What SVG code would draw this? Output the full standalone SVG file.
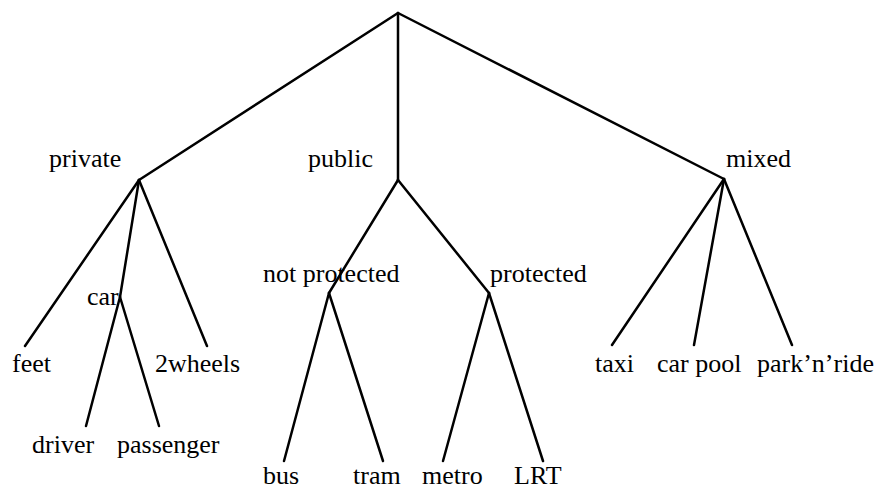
<svg xmlns="http://www.w3.org/2000/svg" width="889" height="490" viewBox="0 0 889 490">
  <style>
    .edge { stroke: #000; stroke-width: 2.5; fill: none; stroke-linecap: round; stroke-linejoin: round; }
    text { font-family: "Liberation Serif", "Times New Roman", serif; font-size: 26px; fill: #000; }
  </style>
  <rect width="889" height="490" fill="#fff"/>
  <g id="connectors">
    <!-- root -->
    <line class="edge" x1="398" y1="13" x2="139" y2="180"/>
    <line class="edge" x1="398" y1="13" x2="398" y2="180"/>
    <line class="edge" x1="398" y1="13" x2="724" y2="179"/>
    <!-- private -->
    <line class="edge" x1="139" y1="180" x2="25" y2="346"/>
    <line class="edge" x1="139" y1="180" x2="120" y2="297"/>
    <line class="edge" x1="139" y1="180" x2="207" y2="346"/>
    <!-- car -->
    <line class="edge" x1="120" y1="297" x2="86" y2="426"/>
    <line class="edge" x1="120" y1="297" x2="159" y2="426"/>
    <!-- public -->
    <line class="edge" x1="398" y1="180" x2="329" y2="293"/>
    <line class="edge" x1="398" y1="180" x2="489" y2="293"/>
    <!-- not protected -->
    <line class="edge" x1="329" y1="293" x2="284" y2="461"/>
    <line class="edge" x1="329" y1="293" x2="383" y2="461"/>
    <!-- protected -->
    <line class="edge" x1="489" y1="293" x2="443" y2="461"/>
    <line class="edge" x1="489" y1="293" x2="543" y2="461"/>
    <!-- mixed -->
    <line class="edge" x1="724" y1="179" x2="612" y2="345"/>
    <line class="edge" x1="724" y1="179" x2="694" y2="345"/>
    <line class="edge" x1="724" y1="179" x2="792" y2="345"/>
  </g>
  <g id="private"><text x="49" y="167">private</text></g>
  <g id="public"><text x="308" y="167">public</text></g>
  <g id="mixed"><text x="726" y="167">mixed</text></g>
  <g id="car"><text x="87" y="305">car</text></g>
  <g id="feet"><text x="12" y="372">feet</text></g>
  <g id="twowheels"><text x="155" y="372">2wheels</text></g>
  <g id="driver"><text x="32" y="453">driver</text></g>
  <g id="passenger"><text x="117" y="453">passenger</text></g>
  <g id="not-protected"><text x="263" y="282">not protected</text></g>
  <g id="protected"><text x="490" y="282">protected</text></g>
  <g id="bus"><text x="263" y="484">bus</text></g>
  <g id="tram"><text x="353" y="484">tram</text></g>
  <g id="metro"><text x="422" y="484">metro</text></g>
  <g id="lrt"><text x="514" y="484">LRT</text></g>
  <g id="taxi"><text x="595" y="372">taxi</text></g>
  <g id="car-pool"><text x="657" y="372">car pool</text></g>
  <g id="park-n-ride"><text x="757" y="372">park’n’ride</text></g>
</svg>
